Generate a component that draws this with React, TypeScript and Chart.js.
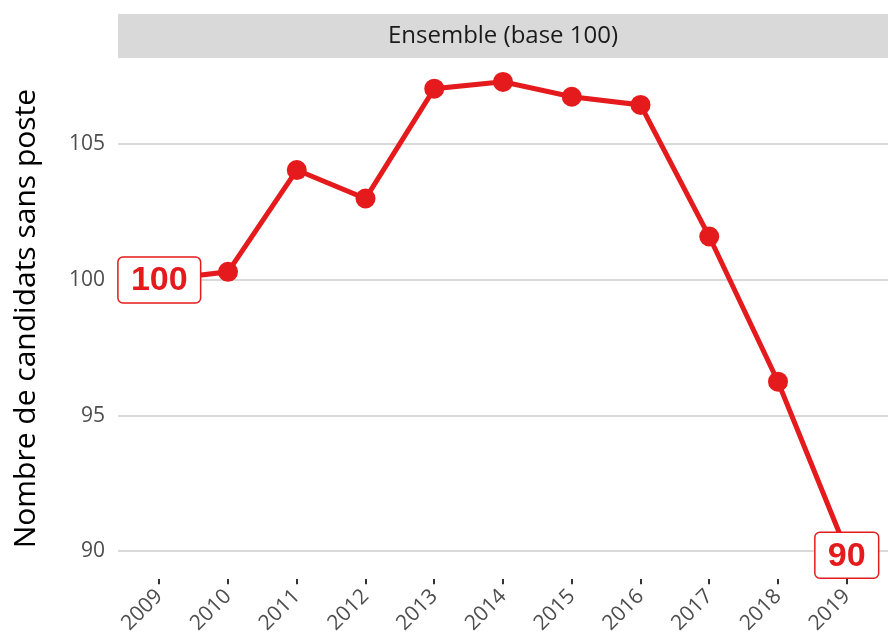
import React, { useEffect, useRef } from 'react';
import { Chart, registerables } from 'chart.js';

Chart.register(...registerables);

const years = [2009, 2010, 2011, 2012, 2013, 2014, 2015, 2016, 2017, 2018, 2019];
const values = [100, 100.3, 104.05, 103.0, 107.05, 107.3, 106.75, 106.45, 101.6, 96.25, 90];
const yTicks = [90, 95, 100, 105];
const stripTitle = 'Ensemble (base 100)';
const yTitle = 'Nombre de candidats sans poste';
const labelIndexes = [0, 10];

const RED = '#e41a1c';
const FONT = '"Open Sans", Lato, sans-serif';

const stripPlugin = {
  id: 'strip',
  beforeDraw(chart: any) {
    const { ctx, chartArea } = chart;
    const h = 44;
    ctx.save();
    ctx.fillStyle = '#d9d9d9';
    ctx.fillRect(chartArea.left, chartArea.top - h, chartArea.right - chartArea.left, h);
    ctx.fillStyle = '#1a1a1a';
    ctx.font = '24px ' + FONT;
    ctx.textAlign = 'center';
    ctx.textBaseline = 'middle';
    ctx.fillText(stripTitle, (chartArea.left + chartArea.right) / 2, chartArea.top - h / 2);
    ctx.restore();
  },
};

const labelPlugin = {
  id: 'endLabels',
  afterDatasetsDraw(chart: any) {
    const { ctx } = chart;
    const xs = chart.scales.x;
    const ys = chart.scales.y;
    ctx.save();
    ctx.font = 'bold 34px "Liberation Sans", Arial, sans-serif';
    labelIndexes.forEach((i, k) => {
      const x = xs.getPixelForValue(years[i]);
      const y = ys.getPixelForValue(values[i]) + (k === labelIndexes.length - 1 ? 4 : 0);
      const text = String(values[i]);
      const tw = ctx.measureText(text).width;
      const w = tw + 26;
      const h = 46;
      ctx.beginPath();
      (ctx as any).roundRect(x - w / 2, y - h / 2, w, h, 5);
      ctx.fillStyle = '#ffffff';
      ctx.fill();
      ctx.lineWidth = 1.5;
      ctx.strokeStyle = RED;
      ctx.stroke();
      ctx.fillStyle = RED;
      ctx.textAlign = 'center';
      ctx.textBaseline = 'middle';
      ctx.fillText(text, x, y + 1);
    });
    ctx.restore();
  },
};

export default function App() {
  const ref = useRef<HTMLCanvasElement | null>(null);
  useEffect(() => {
    if (!ref.current) return;
    const chart = new Chart(ref.current, {
      type: 'line',
      data: {
        datasets: [
          {
            data: years.map((y, i) => ({ x: y, y: values[i] })),
            borderColor: RED,
            backgroundColor: RED,
            borderWidth: 5,
            pointRadius: 10,
            pointHoverRadius: 10,
            pointBorderWidth: 0,
            tension: 0,
            clip: false as any,
          },
        ],
      },
      options: {
        animation: false,
        responsive: false,
        maintainAspectRatio: false,
        layout: { autoPadding: false, padding: { top: 58, left: 8, right: 0, bottom: 0 } },
        plugins: { legend: { display: false }, tooltip: { enabled: false } },
        scales: {
          x: {
            type: 'linear',
            min: 2008.4,
            max: 2019.6,
            afterBuildTicks: (s: any) => {
              s.ticks = years.map((v) => ({ value: v }));
            },
            afterFit: (s: any) => {
              s.paddingRight = 0;
            },
            border: { display: false },
            grid: { drawOnChartArea: false, drawTicks: true, tickLength: 5, color: '#333333', lineWidth: 2 },
            ticks: {
              maxRotation: 45,
              minRotation: 45,
              color: '#4d4d4d',
              font: { family: FONT, size: 21 },
              padding: 0,
              callback: (v: any) => String(v),
            },
          },
          y: {
            min: 88.97,
            max: 108.18,
            afterBuildTicks: (s: any) => {
              s.ticks = yTicks.map((v) => ({ value: v }));
            },
            border: { display: false },
            grid: { color: '#d9d9d9', lineWidth: 2, drawTicks: false },
            ticks: {
              color: '#4d4d4d',
              font: { family: FONT, size: 21 },
              padding: 13,
            },
            title: {
              display: true,
              text: yTitle,
              color: '#000000',
              font: { family: FONT, size: 30 },
              padding: { top: 0, bottom: 12 },
            },
          },
        },
      },
      plugins: [stripPlugin, labelPlugin],
    });
    return () => chart.destroy();
  }, []);
  return (
    <div style={{ position: 'absolute', left: 0, top: 0, width: 888, height: 636 }}>
      <canvas ref={ref} width={888} height={636} style={{ width: 888, height: 636 }} />
    </div>
  );
}
